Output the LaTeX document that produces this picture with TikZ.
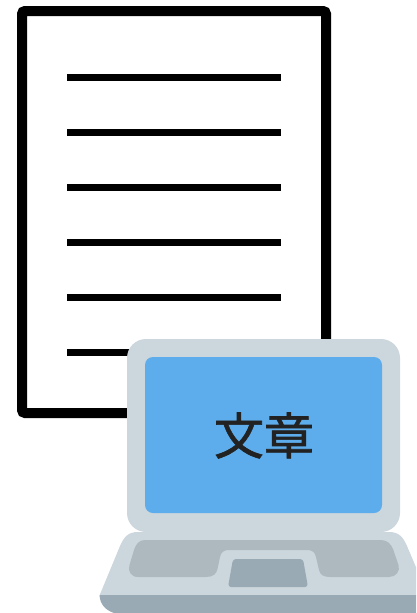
\documentclass[tikz,border=0pt]{standalone}
\usepackage{fontspec}
\newfontfamily\cjkfont[FakeBold=1.2]{Noto Sans CJK JP}
\definecolor{lidgrey}{HTML}{CCD6DD}
\definecolor{screenblue}{HTML}{5DADEC}
\definecolor{keygrey}{HTML}{ADB9BE}
\definecolor{padgrey}{HTML}{99AAB5}
\definecolor{inkdark}{HTML}{222222}
\tikzset{
  pageline/.style={line width=7pt},
  pageframe/.style={line width=10pt,rounded corners=3pt,fill=white},
}
\begin{document}
\begin{tikzpicture}[x=1pt,y=-1pt]
\useasboundingbox (0,0) rectangle (416,613);
\clip (0,0) rectangle (416,613);
% document
\draw[pageframe] (22,11) rectangle (326,413);
\foreach \ly in {77,132,187,242,297,352}
  \draw[pageline] (67,\ly) -- (281,\ly);
% laptop base
\fill[lidgrey] (99.5,595.5) -- (120,546) .. controls (124,537) and (128,532) .. (138,532)
  -- (389,532) .. controls (399,532) and (403,537) .. (407,546) -- (428,595.5) -- cycle;
\fill[padgrey] (99.5,595) -- (428,595) -- (428,613) -- (114,613) .. controls (105,610) and (100,604) .. (99.5,595) -- cycle;
% lid
\fill[lidgrey,rounded corners=19pt] (127,339) rectangle (400,532);
\fill[screenblue,rounded corners=8pt] (145,357) rectangle (382,513);
% keyboard panels
\fill[keygrey] (145,540) -- (381,540)
  .. controls (387,540) and (391,544) .. (393,549) -- (398.5,565)
  .. controls (400.5,571) and (396,577) .. (389,577) -- (330,577)
  .. controls (324,577) and (320,575) .. (319,570) -- (316,557)
  .. controls (315,552) and (312,550) .. (307,550) -- (229,550)
  .. controls (224,550) and (221,552) .. (220,557) -- (217.5,569)
  .. controls (216.5,574) and (213,577) .. (206,577) -- (138,577)
  .. controls (131,577) and (127.5,571) .. (129.5,565) -- (134,550)
  .. controls (136,544) and (139,540) .. (145,540) -- cycle;
% trackpad
\fill[padgrey,rounded corners=3pt] (233,559) -- (303,559) -- (308,587) -- (228,587) -- cycle;
\node[text=inkdark,font=\cjkfont\fontsize{50pt}{50pt}\selectfont,inner sep=0pt] (label) at (264,435.5) {文章};
\end{tikzpicture}
\end{document}
